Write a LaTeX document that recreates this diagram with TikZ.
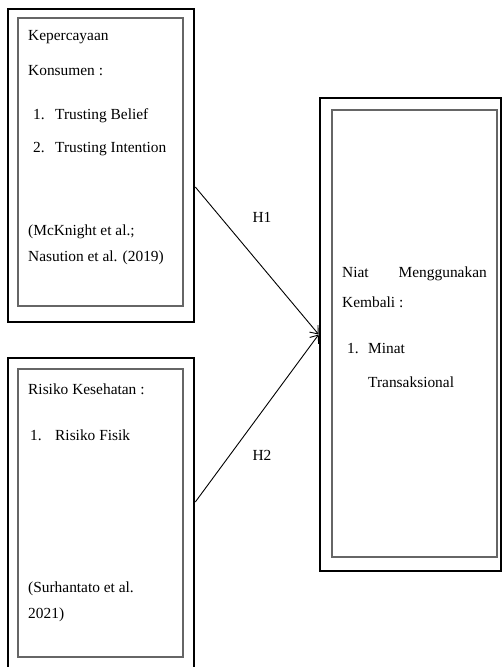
\documentclass[tikz,border=0pt]{standalone}
\usepackage{fontspec}
\setmainfont{Liberation Serif}
\usetikzlibrary{arrows.meta}
\begin{document}
\begin{tikzpicture}[x=1pt,y=-1pt,
  outerbox/.style={draw, line width=2.6pt, inner sep=0pt},
  innerbox/.style={draw=black!60, line width=1.1pt, inner sep=0pt},
  txt/.style={anchor=base west, inner sep=0pt, font=\fontsize{15.4}{18}\selectfont},
  link/.style={-{Straight Barb[length=7pt,width=11pt]}, line width=0.9pt}]
\useasboundingbox (0,0) rectangle (502,667);
\clip (0,0) rectangle (502,667);
% boxes
\node[outerbox, minimum width=186pt, minimum height=313pt] (kp) at (101,165.5) {};
\node[innerbox, minimum width=165pt, minimum height=288pt] (kpin) at (100.5,162) {};
\node[outerbox, minimum width=186pt, minimum height=322pt] (rk) at (101,519) {};
\node[innerbox, minimum width=165pt, minimum height=288pt] (rkin) at (100.5,513) {};
\node[outerbox, minimum width=181pt, minimum height=473pt] (nm) at (410.5,334.5) {};
\node[innerbox, minimum width=165pt, minimum height=447pt] (nmin) at (414.5,333.5) {};
% Kepercayaan Konsumen
\node[txt] (kp1) at (28,40) {Kepercayaan};
\node[txt] (kp2) at (28,75) {Konsumen :};
\node[txt] (kpn1) at (33,119) {1.};
\node[txt] (kpi1) at (55,119) {Trusting Belief};
\node[txt] (kpn2) at (33,152) {2.};
\node[txt] (kpi2) at (55,152) {Trusting Intention};
\node[txt] (kpr1) at (28,235) {(McKnight et al.;};
\node[txt] (kpr2) at (28,261) {Nasution et al. (2019)};
% Risiko Kesehatan
\node[txt] (rk1) at (28,394) {Risiko Kesehatan :};
\node[txt] (rkn1) at (30,440) {1.};
\node[txt] (rki1) at (55,440) {Risiko Fisik};
\node[txt] (rkr1) at (28,592) {(Surhantato et al.};
\node[txt] (rkr2) at (28,618) {2021)};
% Niat Menggunakan Kembali
\node[txt] (nm1) at (342,277) {Niat};
\node[txt, anchor=base east] (nm2) at (487,277) {Menggunakan};
\node[txt] (nm3) at (342,307) {Kembali :};
\node[txt] (nmn1) at (347,353) {1.};
\node[txt] (nmi1) at (368,353) {Minat};
\node[txt] (nmi2) at (368,387) {Transaksional};
% hypotheses
\draw[link] ([yshift=-21.5pt]kp.east) -- (nm.west);
\draw[link] ([yshift=17pt]rk.east) -- (nm.west);
\node[txt, anchor=base] (h1) at (262,222) {H1};
\node[txt, anchor=base] (h2) at (262,460) {H2};
\end{tikzpicture}
\end{document}
